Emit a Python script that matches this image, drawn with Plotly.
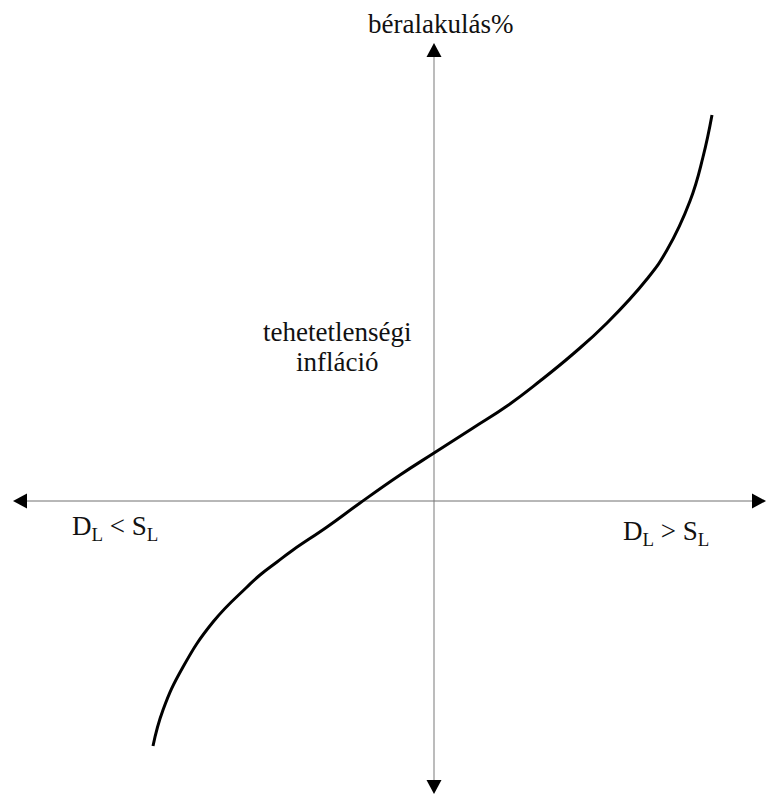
"""
plot.py — béralakulás / Phillips-görbe jellegű vázlat
"""
import plotly.graph_objects as go

# ─── Adatok (origó = tengelymetszés, egység ~ 1 px) ───────────────────────────
curve_x = [-281, -271, -251, -221, -187, -174, -157, -141, -107, -74, -34, 0,
           39, 73, 106, 139, 173, 213, 233, 256, 269, 278]
curve_y = [-245, -209, -166, -121, -86, -74, -61, -49, -26, -2, 26, 48,
           73, 95, 120, 147, 178, 222, 251, 300, 344, 386]

axis_x_ends = [-421, 332]
axis_y_ends = [-293, 458]

y_title = "béralakulás%"
mid_label = ["tehetetlenségi", "infláció"]
left_label = "D<sub>L</sub> &lt; S<sub>L</sub>"
right_label = "D<sub>L</sub> &gt; S<sub>L</sub>"

# ─── Style ───────────────────────────────────────────────────────────────────
FONT = "Liberation Serif, Times New Roman, serif"
ARROW_L = 14
ARROW_W = 7.5


def arrow_path(tip_x, tip_y, dx, dy):
    # dx, dy: unit direction of arrow
    bx, by = tip_x - dx * ARROW_L, tip_y - dy * ARROW_L
    px, py = -dy * ARROW_W, dx * ARROW_W
    return f"M {tip_x},{tip_y} L {bx + px},{by + py} L {bx - px},{by - py} Z"


fig = go.Figure()

fig.add_trace(go.Scatter(
    x=curve_x, y=curve_y, mode="lines",
    line=dict(color="black", width=3, shape="spline", smoothing=1.3),
    hoverinfo="skip", showlegend=False,
))

shapes = [
    dict(type="line", x0=0, x1=0, y0=axis_y_ends[0] + ARROW_L, y1=axis_y_ends[1] - ARROW_L,
         line=dict(color="#a6a6a6", width=1.5), layer="below"),
    dict(type="line", x0=axis_x_ends[0] + ARROW_L, x1=axis_x_ends[1] - ARROW_L, y0=0, y1=0,
         line=dict(color="#707070", width=1), layer="below"),
]
for tx, ty, dx, dy in [
    (0, axis_y_ends[1], 0, 1),
    (0, axis_y_ends[0], 0, -1),
    (axis_x_ends[0], 0, -1, 0),
    (axis_x_ends[1], 0, 1, 0),
]:
    shapes.append(dict(type="path", path=arrow_path(tx, ty, dx, dy),
                       fillcolor="black", line=dict(color="black", width=0)))

annotations = [
    dict(x=6, y=477, text=y_title),
    dict(x=-97, y=169, text=mid_label[0]),
    dict(x=-97, y=139, text=mid_label[1]),
    dict(x=-319, y=-27, text=left_label),
    dict(x=232, y=-32, text=right_label),
]
for a in annotations:
    a.update(xref="x", yref="y", showarrow=False, xanchor="center", yanchor="middle",
             font=dict(family=FONT, size=27, color="#111111"))

fig.update_layout(
    width=766, height=794,
    margin=dict(l=0, r=0, t=0, b=0),
    plot_bgcolor="white", paper_bgcolor="white",
    xaxis=dict(range=[-434, 332], visible=False, fixedrange=True),
    yaxis=dict(range=[-293, 501], visible=False, fixedrange=True),
    shapes=shapes, annotations=annotations,
    showlegend=False,
)

# body margin weg, damit die Figur genau ins Fenster passt
fig.write_html("out.html", config={"displayModeBar": False},
               post_script="document.body.style.margin='0';")
